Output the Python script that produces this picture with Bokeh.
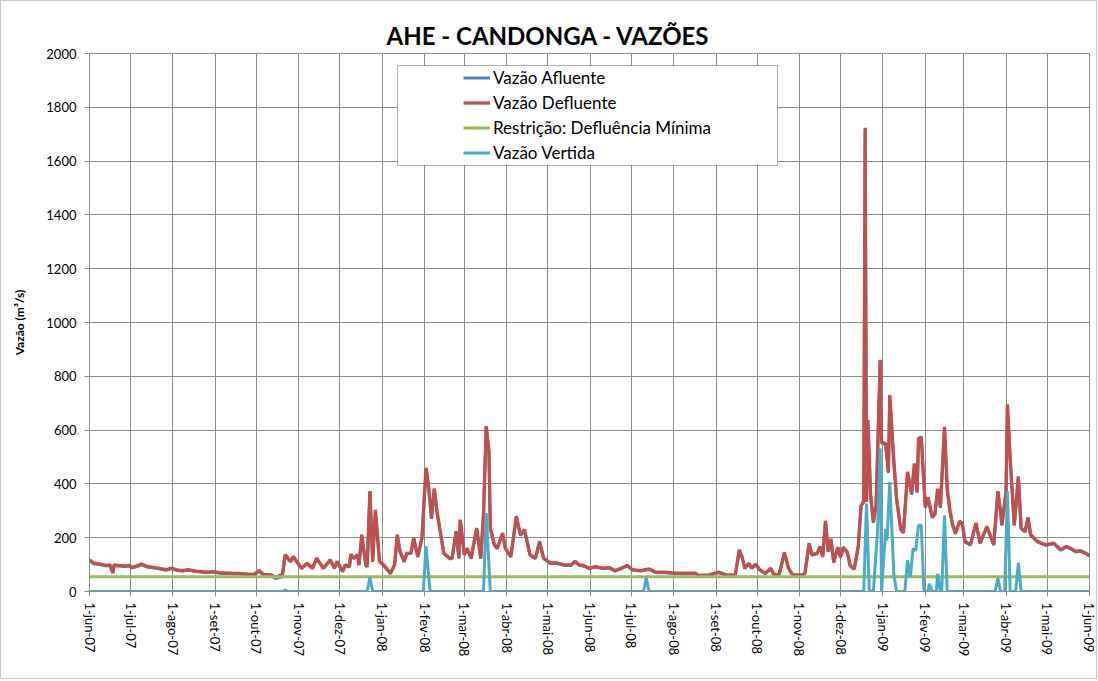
import math
import pandas as pd
from bokeh.plotting import figure
from bokeh.models import (Range1d, FixedTicker, Legend, LegendItem,
                          BoxAnnotation)
from bokeh.embed import file_html
from bokeh.resources import INLINE

# ---------------- data ----------------
defl_dates = [
    "2007-06-01", "2007-06-04", "2007-06-08", "2007-06-13", "2007-06-16", "2007-06-18",
    "2007-06-19", "2007-06-22", "2007-06-27", "2007-06-30", "2007-07-02", "2007-07-06",
    "2007-07-09", "2007-07-13", "2007-07-17", "2007-07-21", "2007-07-27", "2007-07-31",
    "2007-08-04", "2007-08-08", "2007-08-12", "2007-08-18", "2007-08-25", "2007-08-30",
    "2007-09-04", "2007-09-13", "2007-09-19", "2007-09-23", "2007-09-29", "2007-10-03",
    "2007-10-06", "2007-10-12", "2007-10-15", "2007-10-18", "2007-10-20", "2007-10-22",
    "2007-10-26", "2007-10-28", "2007-11-03", "2007-11-07", "2007-11-11", "2007-11-14",
    "2007-11-19", "2007-11-24", "2007-11-27", "2007-11-29", "2007-12-03", "2007-12-05",
    "2007-12-08", "2007-12-09", "2007-12-11", "2007-12-14", "2007-12-15", "2007-12-17",
    "2007-12-20", "2007-12-21", "2007-12-23", "2007-12-25", "2007-12-27", "2007-12-30",
    "2008-01-02", "2008-01-07", "2008-01-10", "2008-01-12", "2008-01-14", "2008-01-17",
    "2008-01-19", "2008-01-22", "2008-01-24", "2008-01-27", "2008-01-30", "2008-02-02",
    "2008-02-04", "2008-02-06", "2008-02-08", "2008-02-10", "2008-02-15", "2008-02-19",
    "2008-02-21", "2008-02-24", "2008-02-26", "2008-02-27", "2008-03-01", "2008-03-03",
    "2008-03-06", "2008-03-10", "2008-03-13", "2008-03-15", "2008-03-17", "2008-03-19",
    "2008-03-20", "2008-03-23", "2008-03-25", "2008-03-29", "2008-03-31", "2008-04-04",
    "2008-04-08", "2008-04-11", "2008-04-14", "2008-04-18", "2008-04-22", "2008-04-25",
    "2008-04-28", "2008-05-03", "2008-05-08", "2008-05-13", "2008-05-18", "2008-05-21",
    "2008-05-24", "2008-05-27", "2008-05-31", "2008-06-05", "2008-06-10", "2008-06-15",
    "2008-06-19", "2008-06-24", "2008-06-28", "2008-07-02", "2008-07-08", "2008-07-14",
    "2008-07-19", "2008-07-26", "2008-08-02", "2008-08-10", "2008-08-17", "2008-08-19",
    "2008-08-27", "2008-09-03", "2008-09-08", "2008-09-15", "2008-09-18", "2008-09-20",
    "2008-09-22", "2008-09-25", "2008-09-27", "2008-09-30", "2008-10-03", "2008-10-07",
    "2008-10-11", "2008-10-13", "2008-10-17", "2008-10-21", "2008-10-24", "2008-10-27",
    "2008-11-03", "2008-11-05", "2008-11-08", "2008-11-10", "2008-11-14", "2008-11-16",
    "2008-11-18", "2008-11-20", "2008-11-22", "2008-11-24", "2008-11-26", "2008-11-29",
    "2008-12-01", "2008-12-03", "2008-12-06", "2008-12-08", "2008-12-11", "2008-12-14",
    "2008-12-16", "2008-12-18", "2008-12-19", "2008-12-20", "2008-12-21", "2008-12-23",
    "2008-12-25", "2008-12-27", "2008-12-30", "2008-12-31", "2009-01-03", "2009-01-05",
    "2009-01-06", "2009-01-09", "2009-01-11", "2009-01-14", "2009-01-16", "2009-01-19",
    "2009-01-22", "2009-01-24", "2009-01-26", "2009-01-27", "2009-01-29", "2009-02-01",
    "2009-02-03", "2009-02-06", "2009-02-08", "2009-02-10", "2009-02-12", "2009-02-15",
    "2009-02-17", "2009-02-19", "2009-02-21", "2009-02-23", "2009-02-26", "2009-02-28",
    "2009-03-02", "2009-03-06", "2009-03-10", "2009-03-13", "2009-03-18", "2009-03-23",
    "2009-03-26", "2009-03-28", "2009-03-29", "2009-04-01", "2009-04-02", "2009-04-04",
    "2009-04-07", "2009-04-10", "2009-04-12", "2009-04-15", "2009-04-17", "2009-04-19",
    "2009-04-24", "2009-04-30", "2009-05-06", "2009-05-11", "2009-05-15", "2009-05-18",
    "2009-05-22", "2009-05-25", "2009-05-29", "2009-06-01",
]

vazao_defluente = [
    118, 105, 103, 97, 99, 68,
    99, 97, 95, 97, 90, 95,
    102, 93, 90, 87, 81, 87,
    80, 78, 81, 76, 72, 74,
    70, 68, 67, 65, 63, 78,
    64, 62, 52, 60, 62, 137,
    112, 130, 87, 105, 87, 124,
    87, 118, 87, 112, 75, 99,
    93, 139, 124, 137, 99, 211,
    99, 93, 373, 112, 304, 112,
    99, 68, 99, 211, 149, 112,
    143, 143, 199, 130, 199, 460,
    385, 273, 383, 298, 143, 124,
    124, 224, 124, 267, 137, 161,
    124, 236, 124, 286, 615, 522,
    236, 174, 161, 217, 161, 130,
    280, 211, 230, 137, 124, 186,
    124, 106, 106, 99, 99, 112,
    99, 97, 87, 93, 87, 89,
    78, 87, 97, 81, 78, 84,
    72, 72, 68, 68, 68, 60,
    62, 72, 62, 62, 155, 130,
    87, 105, 87, 102, 81, 68,
    87, 65, 62, 145, 87, 62,
    62, 68, 180, 137, 143, 168,
    130, 263, 149, 196, 109, 165,
    128, 165, 147, 97, 84, 171,
    320, 333, 1724, 333, 637, 358,
    258, 320, 861, 556, 550, 445,
    730, 482, 345, 233, 220, 445,
    364, 476, 370, 569, 575, 314,
    351, 277, 289, 382, 314, 612,
    382, 300, 248, 217, 261, 255,
    186, 174, 255, 180, 242, 174,
    373, 298, 248, 373, 696, 497,
    248, 428, 236, 224, 276, 211,
    186, 174, 180, 155, 168, 161,
    149, 152, 143, 134,
]

vazao_afluente = [
    116, 103, 101, 95, 97, 70,
    97, 95, 93, 95, 88, 93,
    100, 91, 88, 85, 79, 85,
    78, 76, 79, 74, 70, 72,
    68, 66, 65, 63, 61, 74,
    62, 58, 48, 52, 55, 134,
    110, 128, 85, 103, 85, 122,
    85, 116, 85, 110, 73, 97,
    91, 137, 122, 135, 97, 208,
    97, 91, 370, 110, 300, 110,
    97, 66, 97, 208, 147, 110,
    141, 141, 196, 128, 196, 455,
    382, 270, 380, 295, 141, 122,
    122, 221, 122, 264, 135, 159,
    122, 233, 122, 283, 610, 518,
    233, 172, 159, 214, 159, 128,
    277, 208, 227, 135, 122, 184,
    122, 104, 104, 97, 97, 110,
    97, 95, 85, 91, 85, 87,
    76, 85, 95, 79, 76, 82,
    70, 70, 66, 66, 66, 55,
    60, 70, 60, 58, 152, 128,
    85, 103, 85, 100, 79, 66,
    85, 63, 58, 142, 85, 60,
    60, 66, 176, 135, 140, 165,
    128, 260, 147, 193, 107, 162,
    126, 162, 145, 95, 82, 168,
    316, 340, 1715, 340, 630, 355,
    255, 317, 855, 552, 546, 441,
    725, 478, 341, 230, 217, 441,
    360, 472, 367, 564, 570, 311,
    348, 274, 286, 378, 311, 607,
    378, 297, 245, 214, 258, 252,
    184, 172, 252, 178, 239, 172,
    369, 295, 245, 369, 690, 492,
    245, 424, 233, 221, 273, 208,
    184, 172, 178, 153, 166, 159,
    147, 150, 141, 132,
]

vert_dates = [
    "2007-06-01", "2007-10-20", "2007-10-22", "2007-10-24", "2007-12-21", "2007-12-23",
    "2007-12-25", "2008-01-31", "2008-02-02", "2008-02-05", "2008-03-15", "2008-03-17",
    "2008-03-20", "2008-07-10", "2008-07-12", "2008-07-14", "2008-12-18", "2008-12-20",
    "2008-12-22", "2008-12-25", "2008-12-28", "2008-12-30", "2008-12-31", "2009-01-03",
    "2009-01-04", "2009-01-06", "2009-01-09", "2009-01-11", "2009-01-17", "2009-01-19",
    "2009-01-21", "2009-01-23", "2009-01-25", "2009-01-27", "2009-01-29", "2009-01-31",
    "2009-02-03", "2009-02-04", "2009-02-06", "2009-02-09", "2009-02-10", "2009-02-12",
    "2009-02-13", "2009-02-15", "2009-02-17", "2009-03-24", "2009-03-26", "2009-03-28",
    "2009-03-31", "2009-04-02", "2009-04-04", "2009-04-08", "2009-04-10", "2009-04-12",
    "2009-06-01",
]
vazao_vertida = [
    0, 0, 5, 0, 0, 52,
    0, 0, 168, 0, 0, 292,
    0, 0, 50, 0, 0, 327,
    3, 0, 221, 532, 0, 233,
    190, 407, 60, 0, 0, 116,
    53, 159, 153, 246, 246, 0,
    0, 29, 0, 0, 66, 0,
    0, 283, 0, 0, 50, 0,
    0, 373, 0, 0, 106, 0,
    0,
]

restr_dates = ["2007-06-01", "2009-06-01"]
restricao_minima = [55, 55]

tick_dates = [
    "2007-06-01", "2007-07-01", "2007-08-01", "2007-09-01", "2007-10-01", "2007-11-01",
    "2007-12-01", "2008-01-01", "2008-02-01", "2008-03-01", "2008-04-01", "2008-05-01",
    "2008-06-01", "2008-07-01", "2008-08-01", "2008-09-01", "2008-10-01", "2008-11-01",
    "2008-12-01", "2009-01-01", "2009-02-01", "2009-03-01", "2009-04-01", "2009-05-01",
    "2009-06-01",
]
tick_labels = [
    "1-jun-07", "1-jul-07", "1-ago-07", "1-set-07", "1-out-07", "1-nov-07",
    "1-dez-07", "1-jan-08", "1-fev-08", "1-mar-08", "1-abr-08", "1-mai-08",
    "1-jun-08", "1-jul-08", "1-ago-08", "1-set-08", "1-out-08", "1-nov-08",
    "1-dez-08", "1-jan-09", "1-fev-09", "1-mar-09", "1-abr-09", "1-mai-09",
    "1-jun-09",
]
y_ticks = [0, 200, 400, 600, 800, 1000, 1200, 1400, 1600, 1800, 2000]

series_labels = ["Vazão Afluente", "Vazão Defluente",
                 "Restrição: Defluência Mínima", "Vazão Vertida"]

# ---------------- styling ----------------
FONT = "Lato"
GRID = "#8c8c8c"
C_AFL = "#4F81BD"
C_DEF = "#C0504D"
C_RES = "#9BBB59"
C_VER = "#4BACC6"


def to_ms(d):
    return int(pd.Timestamp(d).value // 10**6)


tick_ms = [to_ms(d) for d in tick_dates]

p = figure(
    x_axis_type="datetime",
    frame_width=1000, frame_height=538,
    min_border_left=88, min_border_right=7,
    min_border_top=52, min_border_bottom=87,
    x_range=Range1d(pd.Timestamp(tick_dates[0]), pd.Timestamp(tick_dates[-1])),
    y_range=Range1d(y_ticks[0], y_ticks[-1]),
    output_backend="svg", toolbar_location=None,
)
p.styles = {"border": "1px solid #c8c8c8"}
p.outline_line_color = GRID
p.background_fill_color = "white"
p.border_fill_color = "white"

p.title.text = "AHE - CANDONGA - VAZÕES"
p.title.align = "left"
p.title.offset = 297
p.title.text_font = FONT
p.title.text_font_size = "24px"
p.title.text_font_style = "bold"
p.title.text_color = "#000000"
p.title.standoff = 8

# axes
p.xaxis.ticker = FixedTicker(ticks=tick_ms)
p.xaxis.major_label_overrides = {m: lab for m, lab in zip(tick_ms, tick_labels)}
p.xaxis.major_label_orientation = -math.pi / 2
p.yaxis.ticker = FixedTicker(ticks=y_ticks)
for ax in (p.xaxis, p.yaxis):
    ax.axis_line_color = GRID
    ax.major_tick_line_color = GRID
    ax.major_tick_out = 5
    ax.major_tick_in = 0
    ax.minor_tick_line_color = None
    ax.major_label_text_font = FONT
    ax.major_label_text_font_size = "13px"
    ax.major_label_text_color = "#000000"
p.xaxis.major_label_standoff = 6
p.yaxis.major_label_standoff = 8
p.yaxis.axis_label = "Vazão (m³/s)"
p.yaxis.axis_label_text_font = FONT
p.yaxis.axis_label_text_font_size = "12px"
p.yaxis.axis_label_text_font_style = "bold"
p.yaxis.axis_label_text_color = "#000000"
p.yaxis.axis_label_standoff = 16

p.xgrid.grid_line_color = GRID
p.ygrid.grid_line_color = GRID
p.xgrid.grid_line_width = 1
p.ygrid.grid_line_width = 1

# series
x_defl = pd.to_datetime(defl_dates)
r_afl = p.line(x_defl, vazao_afluente, line_color=C_AFL, line_width=3)
r_def = p.line(x_defl, vazao_defluente, line_color=C_DEF, line_width=3.3)
r_res = p.line(pd.to_datetime(restr_dates), restricao_minima, line_color=C_RES, line_width=3)
r_ver = p.line(pd.to_datetime(vert_dates), vazao_vertida, line_color=C_VER, line_width=3)

# legend frame
box = BoxAnnotation(left=308, right=688, bottom=426, top=526,
                    left_units="screen", right_units="screen",
                    bottom_units="screen", top_units="screen",
                    fill_color="white", fill_alpha=1.0,
                    line_color="black", line_width=1)
p.add_layout(box)

legend = Legend(
    items=[LegendItem(label=l, renderers=[r]) for l, r in
           zip(series_labels, [r_afl, r_def, r_res, r_ver])],
    location=(374, 428),
    border_line_color=None, background_fill_alpha=0,
    padding=0, margin=0, spacing=4,
    label_height=21, glyph_height=21, glyph_width=27, label_standoff=3,
    label_text_font=FONT, label_text_font_size="17px", label_text_color="#000000",
)
p.add_layout(legend)

open("out.html", "w").write(file_html(p, INLINE))
